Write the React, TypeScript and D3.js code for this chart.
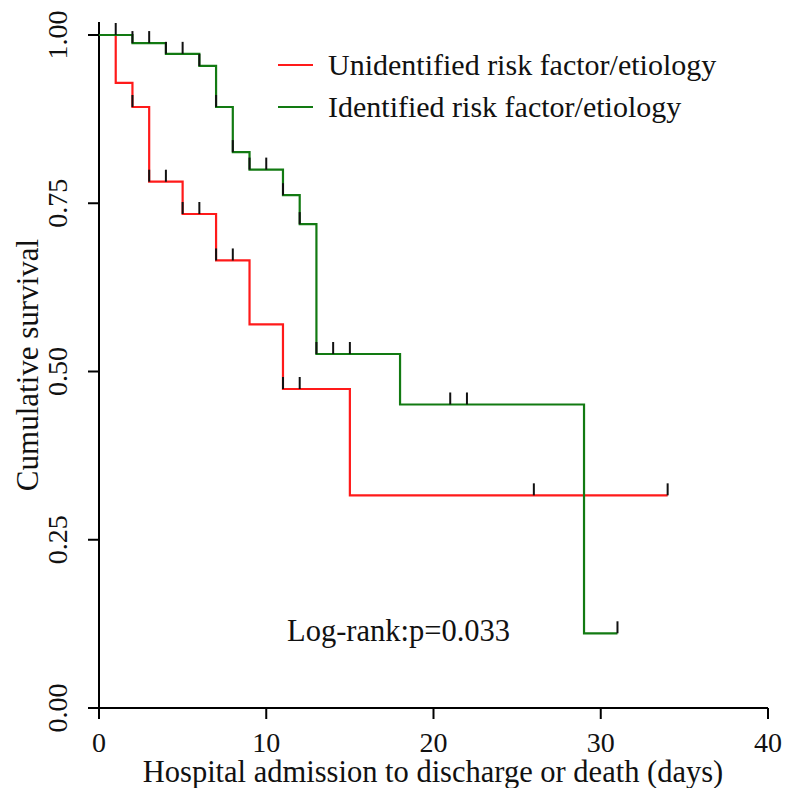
import * as React from "react";
import * as d3 from "d3";

// Kaplan-Meier steps
const redTimes = [0, 1, 2, 3, 5, 7, 9, 11, 15];
const redSurv = [1, 0.929, 0.893, 0.782, 0.734, 0.665, 0.57, 0.474, 0.316];
const redEnd = 34;
const redCensor = [2, 3, 4, 5, 6, 7, 8, 11, 12, 26, 34];

const greenTimes = [0, 2, 4, 6, 7, 8, 9, 11, 12, 13, 18, 29];
const greenSurv = [1, 0.988, 0.972, 0.954, 0.893, 0.826, 0.8, 0.762, 0.719, 0.526, 0.451, 0.111];
const greenEnd = 31;
const greenCensor = [1, 2, 3, 4, 5, 6, 7, 8, 9, 10, 11, 12, 13, 14, 15, 21, 22, 31];

const xTicks = [0, 10, 20, 30, 40];
const yTicks = [0, 0.25, 0.5, 0.75, 1];

const legendLabels = ["Unidentified risk factor/etiology", "Identified risk factor/etiology"];
const pValueText = "Log-rank:p=0.033";

const RED = "#ff1a1a";
const GREEN = "#127a12";
const FONT = "'Liberation Serif', 'Times New Roman', serif";

const W = 786;
const H = 788;

const survAt = (times: number[], surv: number[], t: number) => {
  let s = surv[0];
  for (let i = 0; i < times.length; i++) if (times[i] <= t) s = surv[i];
  return s;
};

const App = () => {
  const x = d3.scaleLinear().domain([0, 40]).range([99, 768]);
  const y = d3.scaleLinear().domain([0, 1]).range([708, 35]);

  const stepLine = d3
    .line<[number, number]>()
    .x((d) => x(d[0]))
    .y((d) => y(d[1]))
    .curve(d3.curveStepAfter);

  const curve = (times: number[], surv: number[], end: number) => {
    const pts: [number, number][] = times.map((t, i) => [t, surv[i]]);
    pts.push([end, surv[surv.length - 1]]);
    return stepLine(pts) ?? "";
  };

  const groups = [
    { times: redTimes, surv: redSurv, end: redEnd, censor: redCensor, color: RED },
    { times: greenTimes, surv: greenSurv, end: greenEnd, censor: greenCensor, color: GREEN },
  ];

  return (
    <svg
      width={W}
      height={H}
      viewBox={`0 0 ${W} ${H}`}
      style={{ position: "absolute", left: 0, top: 0, background: "#fff" }}
      fontFamily={FONT}
    >
      {/* axes */}
      <line x1={99} y1={708} x2={768} y2={708} stroke="#000" strokeWidth={2} />
      <line x1={99} y1={22} x2={99} y2={708} stroke="#000" strokeWidth={2} />
      {xTicks.map((v) => (
        <g key={`x${v}`}>
          <line x1={x(v)} y1={708} x2={x(v)} y2={719} stroke="#000" strokeWidth={2} />
          <text x={x(v)} y={752} textAnchor="middle" fontSize={28} fill="#111">
            {v}
          </text>
        </g>
      ))}
      {yTicks.map((v) => (
        <g key={`y${v}`}>
          <line x1={88} y1={y(v)} x2={99} y2={y(v)} stroke="#000" strokeWidth={2} />
          <text
            transform={`translate(67,${y(v)}) rotate(-90)`}
            textAnchor="middle"
            fontSize={28}
            fill="#111"
          >
            {d3.format(".2f")(v)}
          </text>
        </g>
      ))}
      <text x={433} y={782} textAnchor="middle" fontSize={30.5} fill="#111">
        Hospital admission to discharge or death (days)
      </text>
      <text transform="translate(38,365) rotate(-90)" textAnchor="middle" fontSize={31} fill="#111">
        Cumulative survival
      </text>

      {/* curves */}
      {groups.map((g, gi) => (
        <g key={`c${gi}`}>
          <path d={curve(g.times, g.surv, g.end)} fill="none" stroke={g.color} strokeWidth={2.2} />
          {g.censor.map((t, ci) => {
            const sv = survAt(g.times, g.surv, t);
            return (
              <line
                key={ci}
                x1={x(t)}
                x2={x(t)}
                y1={y(sv)}
                y2={y(sv) - 12}
                stroke="#111"
                strokeWidth={2}
              />
            );
          })}
        </g>
      ))}

      {/* legend */}
      {legendLabels.map((lab, i) => (
        <g key={lab} transform={`translate(0,${65 + i * 42})`}>
          <line x1={278} x2={313} y1={0} y2={0} stroke={i === 0 ? RED : GREEN} strokeWidth={2.2} />
          <text x={328} y={10} fontSize={30} fill="#111">
            {lab}
          </text>
        </g>
      ))}

      <text x={287} y={641} fontSize={30.5} fill="#111">
        {pValueText}
      </text>
    </svg>
  );
};

export default App;
